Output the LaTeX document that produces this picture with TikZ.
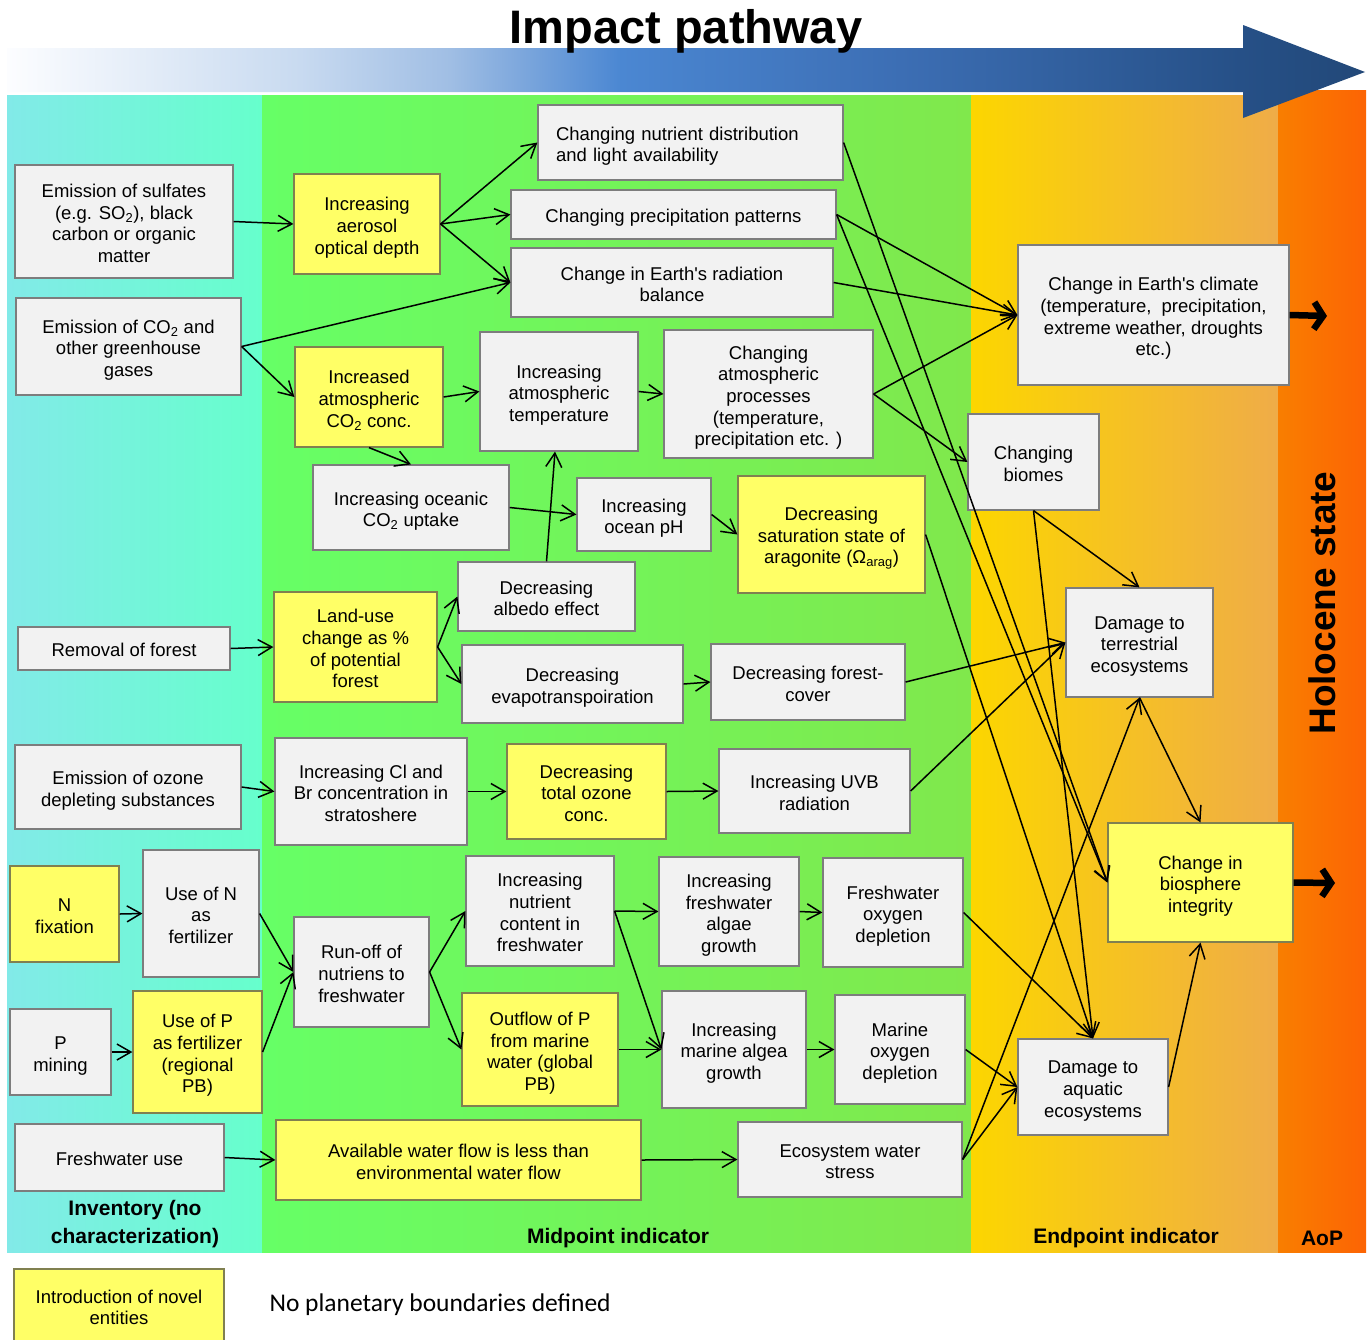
\documentclass[tikz,border=0pt]{standalone}
\usepackage{fontspec}
\setmainfont{Liberation Sans}
\newfontfamily\calib{Carlito}
\usetikzlibrary{arrows.meta}

\definecolor{boxgray}{RGB}{242,242,242}
\definecolor{boxedge}{RGB}{125,125,125}
\definecolor{boxyellow}{RGB}{255,255,102}
\definecolor{yedge}{RGB}{128,128,80}
\definecolor{invL}{RGB}{130,234,232}
\definecolor{invR}{RGB}{102,255,204}
\definecolor{midL}{RGB}{102,255,102}
\definecolor{midR}{RGB}{128,232,76}
\definecolor{endL}{RGB}{252,214,0}
\definecolor{endR}{RGB}{239,172,72}
\definecolor{aopL}{RGB}{249,126,0}
\definecolor{aopR}{RGB}{252,100,4}
\definecolor{ig0}{RGB}{252,253,255}
\definecolor{ig1}{RGB}{200,218,240}
\definecolor{ig2}{RGB}{160,190,228}
\definecolor{ig3}{RGB}{75,135,210}
\definecolor{ig4}{RGB}{60,110,180}
\definecolor{ig5}{RGB}{38,80,135}
\definecolor{ig6}{RGB}{34,72,120}

% horizontal gradient of the pathway arrow (central 50bp fit the path)
\pgfdeclarehorizontalshading{pathgrad}{100bp}{%
  color(0bp)=(ig0); color(25bp)=(ig0); color(35.8bp)=(ig1);
  color(41.3bp)=(ig2); color(47.6bp)=(ig3); color(57.9bp)=(ig4);
  color(70.4bp)=(ig5); color(75bp)=(ig6); color(100bp)=(ig6)}

\tikzset{
  basebox/.style={draw=boxedge, line width=1.2pt, fill=boxgray, align=center,
    inner sep=0pt, font=\fontsize{18.5}{21.7}\selectfont},
  gbox/.style={basebox},
  ybox/.style={basebox, fill=boxyellow, draw=yedge},
  conn/.style={line width=1.5pt, -{Straight Barb[length=14pt,width=16pt]}},
  bigarrow/.style={line width=6.5pt, -{Straight Barb[length=9pt,width=27pt]}},
  bandlabel/.style={font=\bfseries\fontsize{21}{28}\selectfont, align=center},
}

% ascent above the first line and descent below the last line
\newcommand\lnup{\rule{0pt}{20.7pt}}
\newcommand\lndown{\rule[-3.9pt]{0pt}{3.9pt}}
\newcommand\apos{\textquotesingle}

% box given by its left, right, top and bottom edges
\newcommand\pwbox[7]{\node[#1, minimum width={(#4-#3)*1pt}, minimum height={(#6-#5)*1pt}]
  (#2) at ({(#3+#4)/2},{(#5+#6)/2}) {\lnup#7\lndown};}

\begin{document}
\begin{tikzpicture}[x=1pt,y=-1pt]
\useasboundingbox (0,0) rectangle (1370,1339);
\fill[white] (0,0) rectangle (1370,1339);

% stage bands
\shade[left color=invL, right color=invR] (7,95) rectangle (262,1252);
\shade[left color=midL, right color=midR] (262,95) rectangle (971,1252);
\shade[left color=endL, right color=endR] (971,95) rectangle (1278,1252);
\shade[left color=aopL, right color=aopR] (1278,90) rectangle (1366,1252);

% pathway arrow
\shade[shading=pathgrad] (7,48) -- (1243,48) -- (1243,25) -- (1365,72)
  -- (1243,118) -- (1243,92) -- (7,92) -- cycle;
\node[font=\bfseries\fontsize{47}{50}\selectfont, anchor=base] (title) at (686,43) {Impact pathway};

\node[rotate=90, font=\bfseries\fontsize{37}{40}\selectfont] (holo) at (1322,603) {Holocene state};

% band labels
\node[bandlabel] (invlab) at (135,1224) {Inventory (no\\characterization)};
\node[bandlabel] (midlab) at (618,1238) {Midpoint indicator};
\node[bandlabel] (endlab) at (1126,1238) {Endpoint indicator};
\node[bandlabel] (aoplab) at (1322,1238) {AoP};

% inventory
\pwbox{gbox}{sulf}{15}{233}{165}{278}{Emission of sulfates\\(e.g. SO\textsubscript{2}), black\\carbon or organic\\matter}
\pwbox{gbox}{co2e}{16}{241}{298}{395}{Emission of CO\textsubscript{2} and\\other greenhouse\\gases}
\pwbox{gbox}{remf}{18}{230}{627}{670}{Removal of forest}
\pwbox{gbox}{ozd}{15}{241}{745}{829}{Emission of ozone\\depleting substances}
\pwbox{ybox}{nfix}{10}{119}{866}{962}{N\\fixation}
\pwbox{gbox}{usen}{143}{259}{850}{977}{Use of N\\as\\fertilizer}
\pwbox{gbox}{pmin}{10}{111}{1009}{1095}{P\\mining}
\pwbox{ybox}{usep}{133}{262}{991}{1113}{Use of P\\as fertilizer\\(regional\\PB)}
\pwbox{gbox}{fwuse}{15}{224}{1124}{1191}{Freshwater use}

% midpoint
\pwbox{ybox}{aer}{294}{440}{174}{274}{Increasing\\aerosol\\optical depth}
\pwbox{ybox}{aco2}{295}{443}{347}{447}{Increased\\atmospheric\\CO\textsubscript{2} conc.}
\node[gbox, align=left, text width=269pt, inner xsep=18pt, minimum height=75pt]
  (nutd) at (690.5,142.5) {\lnup Changing nutrient distribution\\and light availability\lndown};
\pwbox{gbox}{prec}{511}{836}{190}{239}{Changing precipitation patterns}
\pwbox{gbox}{rad}{511}{833}{248}{317}{Change in Earth\apos s radiation\\balance}
\pwbox{gbox}{atemp}{480}{638}{332}{451}{Increasing\\atmospheric\\temperature}
\pwbox{gbox}{aproc}{664}{873}{330}{458}{Changing\\atmospheric\\processes\\(temperature,\\precipitation etc. )}
\pwbox{gbox}{ocu}{313}{509}{465}{550}{Increasing oceanic\\CO\textsubscript{2} uptake}
\pwbox{gbox}{oph}{577}{711}{478}{551}{Increasing\\ocean pH}
\pwbox{ybox}{sat}{738}{925}{476}{593}{Decreasing\\saturation state of\\aragonite (Ω\textsubscript{arag})}
\pwbox{gbox}{alb}{458}{635}{562}{631}{Decreasing\\albedo effect}
\pwbox{ybox}{land}{274}{437}{592}{702}{Land-use\\change as \%\\of potential\\forest}
\pwbox{gbox}{evap}{462}{683}{645}{723}{Decreasing\\evapotranspoiration}
\pwbox{gbox}{forc}{711}{905}{644}{720}{Decreasing forest-\\cover}
\pwbox{gbox}{clbr}{275}{467}{738}{845}{Increasing Cl and\\Br concentration in\\stratoshere}
\pwbox{ybox}{toz}{507}{666}{744}{839}{Decreasing\\total ozone\\conc.}
\pwbox{gbox}{uvb}{719}{910}{749}{833}{Increasing UVB\\radiation}
\pwbox{gbox}{runoff}{294}{429}{917}{1027}{Run-off of\\nutriens to\\freshwater}
\pwbox{gbox}{nutc}{466}{614}{856}{966}{Increasing\\nutrient\\content in\\freshwater}
\pwbox{ybox}{outp}{462}{618}{993}{1106}{Outflow of P\\from marine\\water (global\\PB)}
\pwbox{gbox}{fwalg}{659}{799}{857}{966}{Increasing\\freshwater\\algae\\growth}
\pwbox{gbox}{malg}{662}{806}{991}{1108}{Increasing\\marine algea\\growth}
\pwbox{gbox}{fwox}{823}{963}{858}{967}{Freshwater\\oxygen\\depletion}
\pwbox{gbox}{mox}{835}{965}{995}{1104}{Marine\\oxygen\\depletion}
\pwbox{ybox}{avw}{276}{641}{1120}{1200}{Available water flow is less than\\environmental water flow}
\pwbox{gbox}{ews}{738}{962}{1122}{1197}{Ecosystem water\\stress}

% endpoint
\pwbox{gbox}{clim}{1018}{1289}{245}{385}{Change in Earth\apos s climate\\(temperature,\ \ precipitation,\\extreme weather, droughts\\etc.)}
\pwbox{gbox}{biom}{968}{1099}{414}{510}{Changing\\biomes}
\pwbox{gbox}{dter}{1066}{1213}{588}{697}{Damage to\\terrestrial\\ecosystems}
\pwbox{ybox}{bio}{1108}{1293}{823}{942}{Change in\\biosphere\\integrity}
\pwbox{gbox}{daq}{1018}{1168}{1039}{1135}{Damage to\\aquatic\\ecosystems}

% legend
\pwbox{ybox}{novel}{14}{224}{1269}{1342}{Introduction of novel\\entities}
\node[anchor=west, font=\calib\fontsize{25.5}{28}\selectfont] (nopb) at (266,1305) {No planetary boundaries defined};

% connectors: climate chain
\draw[conn] (sulf.east) -- (aer.west);
\draw[conn] (aer.east) -- (nutd.west);
\draw[conn] (aer.east) -- (prec.west);
\draw[conn] (aer.east) -- (rad.west);
\draw[conn] (co2e.east) -- (rad.west);
\draw[conn] (co2e.east) -- (aco2.west);
\draw[conn] (aco2.east) -- (atemp.west);
\draw[conn] (aco2.south) -- (ocu.north);
\draw[conn] (atemp.east) -- (aproc.west);
\draw[conn] (ocu.east) -- (oph.west);
\draw[conn] (oph.east) -- (sat.west);
\draw[conn] (alb.north) -- ([xshift=-4pt]atemp.south);
\draw[conn] (land.east) -- (alb.west);
\draw[conn] (land.east) -- (evap.west);
\draw[conn] (evap.east) -- (forc.west);
\draw[conn] (remf.east) -- (land.west);
% ozone chain
\draw[conn] (ozd.east) -- (clbr.west);
\draw[conn] (clbr.east) -- (toz.west);
\draw[conn] (toz.east) -- (uvb.west);
% nutrient chain
\draw[conn] (nfix.east) -- (usen.west);
\draw[conn] (pmin.east) -- (usep.west);
\draw[conn] (usen.east) -- (runoff.west);
\draw[conn] (usep.east) -- (runoff.west);
\draw[conn] (runoff.east) -- (nutc.west);
\draw[conn] (runoff.east) -- (outp.west);
\draw[conn] (nutc.east) -- (fwalg.west);
\draw[conn] (nutc.east) -- (malg.west);
\draw[conn] (outp.east) -- (malg.west);
\draw[conn] (fwalg.east) -- (fwox.west);
\draw[conn] (malg.east) -- (mox.west);
% water chain
\draw[conn] (fwuse.east) -- (avw.west);
\draw[conn] (avw.east) -- (ews.west);
% towards endpoints
\draw[conn] (prec.east) -- (clim.west);
\draw[conn] (rad.east) -- (clim.west);
\draw[conn] (aproc.east) -- (clim.west);
\draw[conn] (aproc.east) -- (biom.west);
\draw[conn] (nutd.east) -- (bio.west);
\draw[conn] (prec.east) -- (bio.west);
\draw[conn] (sat.east) -- (daq.north);
\draw[conn] (biom.south) -- (dter.north);
\draw[conn] (biom.south) -- (daq.north);
\draw[conn] (forc.east) -- (dter.west);
\draw[conn] (uvb.east) -- (dter.west);
\draw[conn] (fwox.east) -- (daq.north);
\draw[conn] (mox.east) -- (daq.west);
\draw[conn] (ews.east) -- (daq.west);
\draw[conn] (ews.east) -- (dter.south);
\draw[conn] (dter.south) -- (bio.north);
\draw[conn] (daq.east) -- (bio.south);

% towards the area of protection
\coordinate (climout) at (1327,316);
\coordinate (bioout) at (1335,883);
\draw[bigarrow] (clim.east) -- (climout);
\draw[bigarrow] (bio.east) -- (bioout);
\end{tikzpicture}
\end{document}
